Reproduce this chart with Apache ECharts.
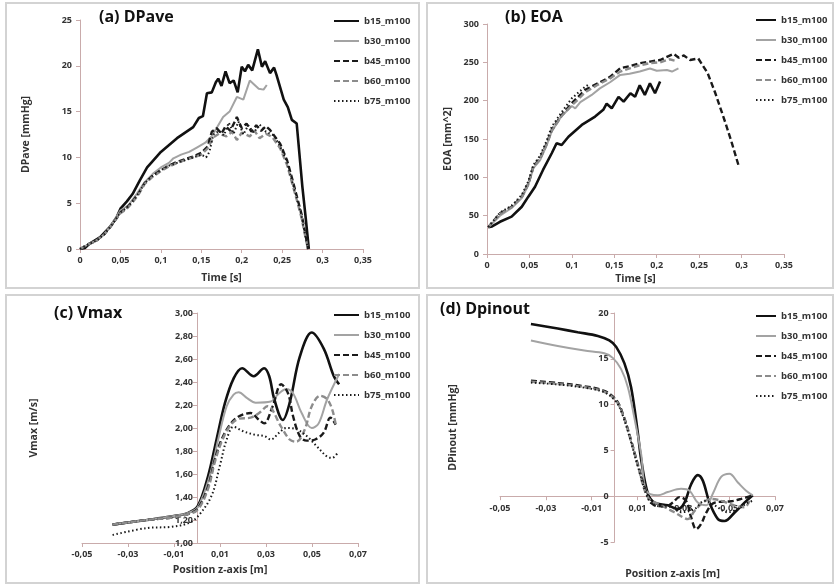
<!DOCTYPE html>
<html>
<head>
<meta charset="utf-8">
<script src="https://cdn.jsdelivr.net/npm/echarts@6/dist/echarts.min.js"></script>
<style>
  html, body { margin: 0; padding: 0; background: #fff; }
  #chart { width: 835px; height: 587px; }
</style>
</head>
<body>
<div id="chart"></div>
<script>
const seriesNames = ['b15_m100', 'b30_m100', 'b45_m100', 'b60_m100', 'b75_m100'];
const panelTitles = ['(a) DPave', '(b) EOA', '(c) Vmax', '(d) Dpinout'];

// (a) DPave [mmHg] vs Time [s]
const aB15 = [[0,0],[0.006,0.1],[0.012,0.6],[0.025,1.3],[0.037,2.4],[0.045,3.4],[0.05,4.4],[0.058,5.2],[0.065,6.0],[0.074,7.5],[0.083,8.9],[0.088,9.4],[0.1,10.6],[0.12,12.1],[0.14,13.3],[0.147,14.3],[0.152,14.5],[0.157,17.0],[0.163,17.1],[0.168,18.2],[0.171,18.6],[0.175,17.8],[0.18,19.4],[0.185,18.1],[0.19,18.4],[0.195,17.1],[0.2,19.9],[0.204,19.4],[0.208,20.1],[0.213,19.5],[0.22,21.8],[0.225,19.9],[0.229,20.5],[0.235,19.2],[0.24,19.8],[0.243,19.0],[0.252,16.3],[0.257,15.5],[0.262,14.1],[0.268,13.7],[0.275,6.8],[0.279,3.5],[0.283,0]];
const aB30 = [[0,0],[0.01,0.5],[0.02,0.9],[0.03,1.6],[0.04,2.8],[0.05,4.2],[0.06,4.8],[0.07,6.0],[0.08,7.3],[0.09,8.2],[0.1,8.9],[0.11,9.4],[0.1155,9.9],[0.125,10.3],[0.135,10.6],[0.145,11.1],[0.155,11.6],[0.163,12.3],[0.177,14.4],[0.185,15.0],[0.194,16.6],[0.202,16.3],[0.21,18.4],[0.221,17.5],[0.227,17.4],[0.231,17.9]];
const aB45 = [[0,0],[0.01,0.5],[0.02,0.9],[0.03,1.6],[0.04,2.7],[0.05,4.0],[0.058,4.5],[0.065,5.2],[0.072,6.0],[0.08,7.2],[0.09,8.0],[0.1,8.6],[0.11,9.1],[0.12,9.5],[0.13,9.8],[0.14,10.1],[0.15,10.5],[0.158,11.2],[0.163,12.8],[0.169,13.2],[0.175,12.6],[0.18,13.4],[0.186,12.9],[0.194,14.4],[0.2,13.2],[0.206,13.7],[0.212,12.8],[0.218,13.5],[0.224,12.9],[0.23,13.4],[0.235,13.0],[0.2475,11.5],[0.256,9.7],[0.262,7.8],[0.268,5.8],[0.274,3.8],[0.279,1.5],[0.282,0]];
const aB60 = [[0,0],[0.01,0.5],[0.02,0.9],[0.03,1.6],[0.04,2.7],[0.05,3.9],[0.058,4.4],[0.065,5.1],[0.072,5.9],[0.08,7.1],[0.09,7.9],[0.1,8.5],[0.11,9.0],[0.12,9.4],[0.13,9.7],[0.14,10.0],[0.15,10.3],[0.158,11.0],[0.165,12.2],[0.172,12.6],[0.181,12.3],[0.188,12.8],[0.194,11.9],[0.2,12.7],[0.21,12.3],[0.216,12.9],[0.222,12.1],[0.23,12.6],[0.238,12.2],[0.2475,11.0],[0.256,9.2],[0.262,7.3],[0.268,5.4],[0.274,3.4],[0.279,1.2],[0.282,0]];
const aB75 = [[0,0],[0.01,0.5],[0.02,0.9],[0.03,1.6],[0.04,2.7],[0.05,4.0],[0.058,4.5],[0.065,5.2],[0.072,6.0],[0.08,7.2],[0.09,8.0],[0.1,8.6],[0.11,9.1],[0.12,9.4],[0.13,9.7],[0.14,10.0],[0.15,10.3],[0.156,10.0],[0.16,10.6],[0.165,12.5],[0.172,12.9],[0.178,12.4],[0.184,13.8],[0.19,12.6],[0.196,13.9],[0.202,12.5],[0.208,13.5],[0.215,12.7],[0.222,13.6],[0.23,12.8],[0.24,12.4],[0.2475,11.2],[0.256,9.5],[0.262,7.5],[0.268,5.6],[0.274,3.6],[0.279,1.3],[0.282,0]];

// (b) EOA [mm^2] vs Time [s]
const bB15 = [[0.0015,35],[0.006,36],[0.0153,42],[0.029,48.7],[0.041,61.7],[0.0487,74.8],[0.0566,87.8],[0.066,109.6],[0.0763,131.4],[0.082,144.5],[0.088,142.2],[0.096,153],[0.1117,168.3],[0.1274,179.2],[0.137,188],[0.141,196],[0.147,190],[0.155,205],[0.161,198.7],[0.169,209.7],[0.1745,205],[0.18,220],[0.186,207.5],[0.192,222.7],[0.198,209.7],[0.204,224.9]];
const bB30 = [[0.0015,35],[0.0153,50],[0.029,60],[0.041,73],[0.0487,90],[0.0546,112],[0.0625,122],[0.0704,142],[0.0763,160],[0.088,180],[0.0999,193],[0.104,190],[0.11,198],[0.1234,207.5],[0.133,216],[0.145,224],[0.157,233.6],[0.168,235],[0.18,238],[0.192,242],[0.2,239],[0.212,240],[0.218,238],[0.2256,242]];
const bB45 = [[0.0015,35],[0.0153,53],[0.029,61.7],[0.041,74.8],[0.0487,92],[0.0546,114],[0.0625,125],[0.0704,144.5],[0.0763,162],[0.088,181.4],[0.0999,196.7],[0.1156,214],[0.131,222.8],[0.145,231],[0.157,242.3],[0.168,245],[0.18,248.9],[0.192,251],[0.204,253],[0.212,257],[0.22,261],[0.226,256],[0.232,259],[0.2394,253],[0.249,255],[0.26,236],[0.269,210],[0.281,171],[0.2885,145],[0.2963,116]];
const bB60 = [[0.0015,35],[0.0153,52],[0.029,61],[0.041,74],[0.0487,91],[0.0546,113],[0.0625,124],[0.0704,143],[0.0763,161],[0.088,180],[0.0999,194],[0.106,200],[0.1156,211],[0.131,221],[0.145,229],[0.157,238],[0.168,242],[0.18,246],[0.192,249],[0.204,250],[0.215,254],[0.222,252]];
const bB75 = [[0.0015,35],[0.0153,54],[0.029,63],[0.041,77],[0.0487,95],[0.0546,116],[0.0625,128],[0.0704,148],[0.0763,166],[0.088,185],[0.0999,203],[0.108,211],[0.1156,218],[0.12,221]];

// (c) Vmax [m/s] vs Position z-axis [m]
const cB15 = [[-0.0367,1.16],[-0.0219,1.20],[-0.0115,1.23],[-0.0041,1.26],[0.0003,1.32],[0.0048,1.58],[0.0085,1.90],[0.0122,2.22],[0.0159,2.43],[0.0196,2.52],[0.0247,2.45],[0.0292,2.52],[0.0314,2.45],[0.0336,2.25],[0.0373,2.07],[0.0403,2.22],[0.0447,2.62],[0.0499,2.83],[0.0551,2.69],[0.0595,2.45],[0.0618,2.38]];
const cB30 = [[-0.0367,1.16],[-0.0219,1.20],[-0.0115,1.23],[-0.0041,1.26],[0.0003,1.31],[0.0055,1.58],[0.0092,1.90],[0.0129,2.19],[0.0159,2.29],[0.0181,2.31],[0.0218,2.26],[0.0255,2.22],[0.0321,2.23],[0.0351,2.29],[0.0388,2.34],[0.0418,2.30],[0.0455,2.13],[0.0499,2.00],[0.0529,2.04],[0.0566,2.25],[0.0618,2.47]];
const cB45 = [[-0.0367,1.16],[-0.0219,1.20],[-0.0115,1.22],[-0.0041,1.25],[0.0003,1.30],[0.0048,1.49],[0.0077,1.72],[0.0107,1.90],[0.0144,2.03],[0.0181,2.10],[0.0233,2.13],[0.027,2.07],[0.0292,2.04],[0.0329,2.19],[0.0366,2.38],[0.0396,2.30],[0.0418,2.10],[0.0447,1.93],[0.0477,1.89],[0.0514,1.90],[0.0551,1.96],[0.058,2.09],[0.0603,2.03]];
const cB60 = [[-0.0367,1.16],[-0.0219,1.20],[-0.0115,1.22],[-0.0041,1.25],[0.0003,1.29],[0.0048,1.47],[0.0077,1.70],[0.0107,1.88],[0.0144,2.02],[0.0181,2.08],[0.0233,2.09],[0.027,2.13],[0.0307,2.19],[0.0366,2.01],[0.0403,1.90],[0.0432,1.88],[0.0469,1.99],[0.0499,2.19],[0.0536,2.28],[0.0566,2.25],[0.0588,2.16],[0.0603,2.03]];
const cB75 = [[-0.0367,1.07],[-0.0219,1.13],[-0.0115,1.14],[-0.0041,1.17],[0.0003,1.23],[0.0063,1.41],[0.0099,1.67],[0.0129,1.90],[0.0159,2.01],[0.0203,1.97],[0.0255,1.94],[0.0292,1.93],[0.0321,1.90],[0.0358,1.96],[0.0388,2.00],[0.0432,1.99],[0.0477,1.93],[0.0521,1.84],[0.0566,1.75],[0.0588,1.74],[0.061,1.78]];

// (d) DPinout [mmHg] vs Position z-axis [m]
const dB15 = [[-0.0365,18.8],[-0.0248,18.3],[-0.0161,17.9],[-0.0073,17.5],[-0.0023,17.0],[0.0007,16.3],[0.0043,14.5],[0.0072,11.9],[0.0101,7.0],[0.0116,4.0],[0.0145,0.3],[0.0174,-0.7],[0.0232,-1.0],[0.0276,-1.4],[0.0305,-0.7],[0.0334,1.3],[0.0363,2.3],[0.0385,1.7],[0.0414,-0.7],[0.0451,-2.5],[0.048,-2.7],[0.0523,-1.8],[0.0567,-0.7],[0.0603,0.1]];
const dB30 = [[-0.0365,17.0],[-0.0248,16.4],[-0.0132,15.9],[-0.0045,15.6],[-0.0008,15.1],[0.0028,13.9],[0.0058,11.9],[0.0086,8.6],[0.0116,4.6],[0.0138,0.6],[0.0189,0.1],[0.0232,0.45],[0.029,0.8],[0.0327,0.6],[0.0363,-0.7],[0.04,-1.0],[0.0429,0.3],[0.0465,2.1],[0.0501,2.45],[0.0538,1.5],[0.0574,0.6],[0.0603,0.1]];
const dB45 = [[-0.0365,12.6],[-0.0248,12.35],[-0.0132,12.0],[-0.0045,11.5],[0.0007,10.5],[0.0036,9.0],[0.0072,6.1],[0.0101,3.5],[0.0145,0.0],[0.0174,-1.0],[0.0225,-1.1],[0.0254,-0.7],[0.0283,-0.1],[0.0312,-0.5],[0.0334,-2.3],[0.0356,-3.6],[0.0378,-3.0],[0.04,-1.8],[0.0429,-0.8],[0.0465,-0.6],[0.0509,-0.55],[0.0552,-0.3],[0.0603,0.1]];
const dB60 = [[-0.0365,12.5],[-0.0248,12.25],[-0.0132,11.9],[-0.0045,11.4],[0.0007,10.4],[0.0036,8.9],[0.0072,6.0],[0.0101,3.4],[0.0145,-0.1],[0.0203,-1.0],[0.0261,-1.75],[0.0298,-2.3],[0.032,-2.5],[0.0349,-1.6],[0.0385,-0.7],[0.0421,-0.3],[0.0465,-0.5],[0.0523,-1.0],[0.0567,-1.2],[0.0589,-0.5]];
const dB75 = [[-0.0365,12.4],[-0.0248,12.2],[-0.0132,11.85],[-0.0045,11.35],[0.0007,10.3],[0.0036,8.8],[0.0072,5.9],[0.0101,3.3],[0.0145,-0.2],[0.0174,-1.0],[0.0247,-1.2],[0.029,-1.75],[0.0349,-1.4],[0.0392,-0.5],[0.0436,-1.0],[0.0494,-1.75],[0.0538,-1.4],[0.0574,-0.8],[0.0603,-0.5]];

const panelData = [
  [aB15, aB30, aB45, aB60, aB75],
  [bB15, bB30, bB45, bB60, bB75],
  [cB15, cB30, cB45, cB60, cB75],
  [dB15, dB30, dB45, dB60, dB75]
];

const chart = echarts.init(document.getElementById('chart'));

const FONT = '"Open Sans", "Liberation Sans", sans-serif';
const axisColor = '#c9abab';
const labelStyle = { color: '#333', fontFamily: FONT, fontWeight: 'bold', fontSize: 9 };
const nameStyle = { color: '#333', fontFamily: FONT, fontWeight: 'bold', fontSize: 10.5 };

const lineStyles = [
  { color: '#111', width: 2.6, type: 'solid' },
  { color: '#a3a3a3', width: 2, type: 'solid' },
  { color: '#1a1a1a', width: 2.4, type: [6, 3] },
  { color: '#8c8c8c', width: 2.4, type: [6, 3] },
  { color: '#1a1a1a', width: 2, type: [1.5, 2.5] }
];

const comma = (v) => String(+v.toFixed(3)).replace('.', ',');
const comma2 = (v) => v.toFixed(2).replace('.', ',');

const grids = [
  { left: 80, top: 20, width: 283, height: 229 },
  { left: 487, top: 24, width: 297, height: 230 },
  { left: 82, top: 313, width: 276, height: 230 },
  { left: 500, top: 313, width: 275, height: 229 }
].map(g => ({ ...g, containLabel: false, outerBoundsMode: 'none' }));

const noZeroLine = { onZero: false, lineStyle: { color: axisColor, width: 1 } };

const axisBase = {
  type: 'value',
  splitLine: { show: false },
  axisLine: noZeroLine,
  axisTick: { lineStyle: { color: axisColor }, length: 4 },
  nameLocation: 'middle',
  nameTextStyle: nameStyle
};

// (d): x axis is lifted to y = 0, (c)/(d): y axis shifted right to x = 0
const xAxes = [
  { ...axisBase, gridIndex: 0, min: 0, max: 0.35, interval: 0.05, name: 'Time [s]', nameGap: 24,
    axisLabel: { ...labelStyle, margin: 7, formatter: comma } },
  { ...axisBase, gridIndex: 1, min: 0, max: 0.35, interval: 0.05, name: 'Time [s]', nameGap: 20,
    axisLabel: { ...labelStyle, margin: 7, formatter: comma } },
  { ...axisBase, gridIndex: 2, min: -0.05, max: 0.07, interval: 0.02, name: 'Position z-axis [m]', nameGap: 22,
    axisLabel: { ...labelStyle, margin: 7, formatter: comma2 } },
  { ...axisBase, gridIndex: 3, min: -0.05, max: 0.07, interval: 0.02, name: 'Position z-axis [m]', nameGap: 72,
    offset: -45.8,
    nameTextStyle: { ...nameStyle, padding: [0, 0, 0, 70] },
    axisLabel: { ...labelStyle, margin: 8, formatter: comma2 } }
];

const yAxes = [
  { ...axisBase, gridIndex: 0, min: 0, max: 25, interval: 5, name: 'DPave [mmHg]', nameGap: 48,
    axisLabel: { ...labelStyle, margin: 8 } },
  { ...axisBase, gridIndex: 1, min: 0, max: 300, interval: 50, name: 'EOA [mm^2]', nameGap: 33,
    axisLabel: { ...labelStyle, margin: 8 } },
  { ...axisBase, gridIndex: 2, min: 1, max: 3, interval: 0.2, name: 'Vmax [m/s]', nameGap: 157, offset: -115,
    axisLabel: { ...labelStyle, margin: 4, formatter: comma2 } },
  { ...axisBase, gridIndex: 3, min: -5, max: 20, interval: 5, name: 'DPinout [mmHg]', nameGap: 156, offset: -114.6,
    axisLabel: { ...labelStyle, margin: 6 } }
];

const series = [];
panelData.forEach((panel, p) => {
  panel.forEach((data, i) => {
    series.push({
      name: seriesNames[i],
      type: 'line',
      xAxisIndex: p,
      yAxisIndex: p,
      data: data,
      symbol: 'none',
      smooth: p >= 2 ? 0.35 : false,
      lineStyle: lineStyles[i],
      itemStyle: { color: lineStyles[i].color },
      z: 2
    });
  });
});

const legendPos = [
  { left: 333, top: 16, itemWidth: 25 },
  { left: 755, top: 15, itemWidth: 20 },
  { left: 333, top: 310, itemWidth: 25 },
  { left: 755, top: 311, itemWidth: 20 }
];

const legends = legendPos.map(pos => ({
  ...pos,
  orient: 'vertical',
  padding: 0,
  data: seriesNames,
  selectedMode: false,
  itemHeight: 8,
  itemGap: 10,
  itemStyle: { opacity: 0, borderWidth: 0 },
  textStyle: { color: '#333', fontFamily: FONT, fontWeight: 'bold', fontSize: 9.5 }
}));

const titlePos = [
  { left: 99, top: 9 },
  { left: 505, top: 9 },
  { left: 54, top: 305 },
  { left: 440, top: 301 }
];

const titles = titlePos.map((pos, i) => ({
  ...pos,
  text: panelTitles[i],
  padding: 0,
  textStyle: { color: '#111', fontFamily: FONT, fontWeight: 'bold', fontSize: 16 }
}));

const frames = [
  [6, 3, 413, 285],
  [427, 3, 406, 285],
  [6, 295, 413, 288],
  [427, 295, 406, 288]
].map(r => ({
  type: 'rect',
  shape: { x: r[0], y: r[1], width: r[2], height: r[3] },
  style: { fill: 'none', stroke: '#d3d3d3', lineWidth: 2 },
  silent: true,
  z: -1
}));

chart.setOption({
  backgroundColor: '#fff',
  animation: false,
  title: titles,
  legend: legends,
  grid: grids,
  xAxis: xAxes,
  yAxis: yAxes,
  series: series,
  graphic: frames
});
</script>
</body>
</html>
